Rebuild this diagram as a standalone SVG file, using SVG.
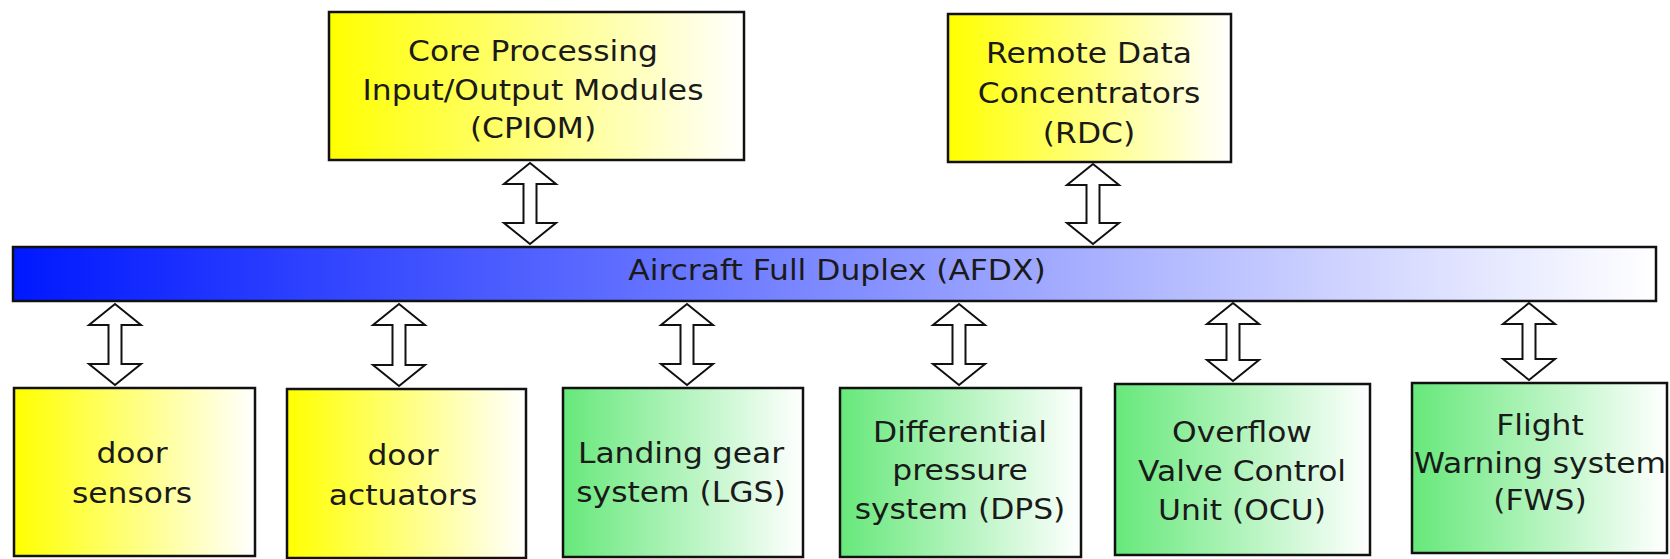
<svg xmlns="http://www.w3.org/2000/svg" width="1670" height="559" viewBox="0 0 1670 559">
  <defs>
    <linearGradient id="gYellow" x1="0" y1="0" x2="1" y2="0">
      <stop offset="0" stop-color="#ffff00"/>
      <stop offset="1" stop-color="#ffffff"/>
    </linearGradient>
    <linearGradient id="gGreen" x1="0" y1="0" x2="1" y2="0">
      <stop offset="0" stop-color="#66e87a"/>
      <stop offset="1" stop-color="#ffffff"/>
    </linearGradient>
    <linearGradient id="gBlue" x1="0" y1="0" x2="1" y2="0">
      <stop offset="0" stop-color="#0018ff"/>
      <stop offset="1" stop-color="#ffffff"/>
    </linearGradient>
    <style>
      .box { stroke: #111111; stroke-width: 2.5; }
      .yellow { fill: url(#gYellow); }
      .green { fill: url(#gGreen); }
      .bus { fill: url(#gBlue); stroke: #111111; stroke-width: 2.5; }
      .lbl { font-family: "DejaVu Sans", Verdana, sans-serif; font-size: 28px; fill: #1a1a1a; text-anchor: middle; }
      .arrow { fill: #ffffff; stroke: #111111; stroke-width: 2; stroke-linejoin: miter; }
    </style>
  </defs>

  <rect width="1670" height="559" fill="#ffffff"/>

  <!-- AFDX bus -->
  <g id="afdx">
    <rect class="bus" x="13" y="247" width="1643" height="54"/>
    <g transform="translate(837 0) scale(1.12 1)">
      <text class="lbl" x="0" y="280">Aircraft Full Duplex (AFDX)</text>
    </g>
  </g>

  <!-- upper modules -->
  <g id="cpiom">
    <rect class="box yellow" x="329" y="12" width="415" height="148"/>
    <g transform="translate(533 0) scale(1.12 1)">
      <text class="lbl" x="0" y="61.5">Core Processing</text>
      <text class="lbl" x="0" y="100">Input/Output Modules</text>
      <text class="lbl" x="0" y="138.5">(CPIOM)</text>
    </g>
  </g>

  <g id="rdc">
    <rect class="box yellow" x="948" y="14" width="283" height="148"/>
    <g transform="translate(1089 0) scale(1.12 1)">
      <text class="lbl" x="0" y="63">Remote Data</text>
      <text class="lbl" x="0" y="103">Concentrators</text>
      <text class="lbl" x="0" y="143">(RDC)</text>
    </g>
  </g>

  <!-- lower subsystems -->
  <g id="door-sensors">
    <rect class="box yellow" x="14" y="388" width="241" height="168"/>
    <g transform="translate(132 0) scale(1.12 1)">
      <text class="lbl" x="0" y="463">door</text>
      <text class="lbl" x="0" y="503">sensors</text>
    </g>
  </g>

  <g id="door-actuators">
    <rect class="box yellow" x="287" y="389" width="239" height="169"/>
    <g transform="translate(403 0) scale(1.12 1)">
      <text class="lbl" x="0" y="465">door</text>
      <text class="lbl" x="0" y="505">actuators</text>
    </g>
  </g>

  <g id="lgs">
    <rect class="box green" x="563" y="388" width="240" height="169"/>
    <g transform="translate(681 0) scale(1.12 1)">
      <text class="lbl" x="0" y="463">Landing gear</text>
      <text class="lbl" x="0" y="502">system (LGS)</text>
    </g>
  </g>

  <g id="dps">
    <rect class="box green" x="840" y="388" width="241" height="169"/>
    <g transform="translate(960 0) scale(1.12 1)">
      <text class="lbl" x="0" y="442">Differential</text>
      <text class="lbl" x="0" y="480">pressure</text>
      <text class="lbl" x="0" y="519">system (DPS)</text>
    </g>
  </g>

  <g id="ocu">
    <rect class="box green" x="1115" y="384" width="255" height="171"/>
    <g transform="translate(1242 0) scale(1.12 1)">
      <text class="lbl" x="0" y="442">Overflow</text>
      <text class="lbl" x="0" y="481">Valve Control</text>
      <text class="lbl" x="0" y="520">Unit (OCU)</text>
    </g>
  </g>

  <g id="fws">
    <rect class="box green" x="1412" y="383" width="255" height="170"/>
    <g transform="translate(1540 0) scale(1.12 1)">
      <text class="lbl" x="0" y="435">Flight</text>
      <text class="lbl" x="0" y="473">Warning system</text>
      <text class="lbl" x="0" y="510">(FWS)</text>
    </g>
  </g>

  <!-- bidirectional links to the bus -->
  <g id="connectors">
    <path class="arrow" d="M530,163 L556,184 L536.5,184 L536.5,223 L556,223 L530,244 L504,223 L523.5,223 L523.5,184 L504,184 Z"/>
    <path class="arrow" d="M1093,164 L1119,185 L1099.5,185 L1099.5,223 L1119,223 L1093,244 L1067,223 L1086.5,223 L1086.5,185 L1067,185 Z"/>
    <path class="arrow" d="M115,304 L141,325 L121.5,325 L121.5,364 L141,364 L115,385 L89,364 L108.5,364 L108.5,325 L89,325 Z"/>
    <path class="arrow" d="M399,304 L425,325 L405.5,325 L405.5,365 L425,365 L399,386 L373,365 L392.5,365 L392.5,325 L373,325 Z"/>
    <path class="arrow" d="M687,304 L713,325 L693.5,325 L693.5,364 L713,364 L687,385 L661,364 L680.5,364 L680.5,325 L661,325 Z"/>
    <path class="arrow" d="M959,304 L985,325 L965.5,325 L965.5,364 L985,364 L959,385 L933,364 L952.5,364 L952.5,325 L933,325 Z"/>
    <path class="arrow" d="M1233,303 L1259,324 L1239.5,324 L1239.5,360 L1259,360 L1233,381 L1207,360 L1226.5,360 L1226.5,324 L1207,324 Z"/>
    <path class="arrow" d="M1529,303 L1555,324 L1535.5,324 L1535.5,359 L1555,359 L1529,380 L1503,359 L1522.5,359 L1522.5,324 L1503,324 Z"/>
  </g>
</svg>
